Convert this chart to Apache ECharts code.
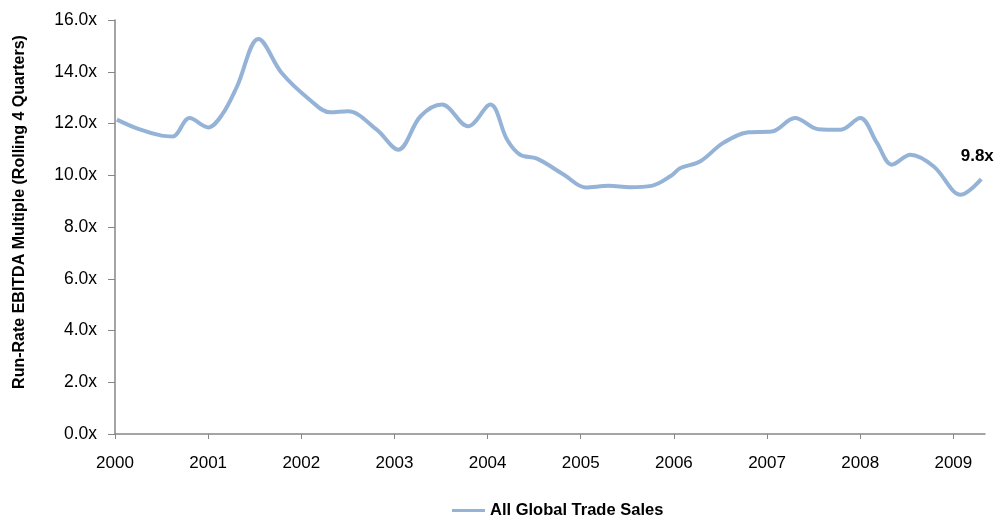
<!DOCTYPE html>
<html>
<head>
<meta charset="utf-8">
<script src="https://cdn.jsdelivr.net/npm/echarts@6/dist/echarts.min.js"></script>
<style>html,body{margin:0;padding:0;background:#fff}#c{width:997px;height:516px}</style>
</head>
<body>
<div id="c"></div>
<script>
const seriesName = 'All Global Trade Sales';
const yTitle = 'Run-Rate EBITDA Multiple (Rolling 4 Quarters)';
const dates = [2000.02,2000.25,2000.5,2000.62,2000.8,2001.0,2001.15,2001.31,2001.54,2001.79,2002.09,2002.31,2002.5,2002.81,2003.04,2003.28,2003.51,2003.79,2004.03,2004.21,2004.35,2004.53,2004.82,2005.05,2005.30,2005.53,2005.76,2005.97,2006.07,2006.28,2006.53,2006.80,2007.05,2007.30,2007.55,2007.79,2008.0,2008.18,2008.34,2008.54,2008.79,2009.08,2009.30];
const values = [12.15,11.79,11.53,11.5,12.21,11.85,12.34,13.43,15.27,13.95,12.92,12.43,12.47,11.76,10.99,12.28,12.73,11.89,12.73,11.37,10.79,10.64,10.02,9.53,9.59,9.54,9.59,9.98,10.28,10.53,11.25,11.66,11.69,12.21,11.78,11.76,12.21,11.25,10.41,10.79,10.34,9.25,9.85];
const endLabel = '9.8x';

const font = 'Liberation Sans, Arial, sans-serif';
const lineColor = '#95B3D7';
const data = dates.map((d, i) => {
  const item = { value: [d, values[i]] };
  if (i === dates.length - 1) {
    item.label = { show: true, position: 'top', offset: [-4, -9], formatter: endLabel,
      fontFamily: font, fontWeight: 'bold', fontSize: 17, color: '#000', opacity: 1 };
  }
  return item;
});

const chart = echarts.init(document.getElementById('c'), null, { renderer: 'canvas' });
chart.setOption({
  animation: false,
  backgroundColor: '#fff',
  grid: { left: 115, right: 12, top: 20, bottom: 82, containLabel: false },
  legend: {
    left: 447, top: 497,
    icon: 'rect', itemWidth: 33, itemHeight: 3, itemGap: 10,
    itemStyle: { color: lineColor, opacity: 1, borderWidth: 0 },
    textStyle: { fontFamily: font, fontWeight: 'bold', fontSize: 16.5, color: '#000' },
    data: [seriesName]
  },
  graphic: [{
    type: 'text', x: 20, y: 212, rotation: Math.PI / 2,
    style: { text: yTitle, fontFamily: font, fontWeight: 'bold', fontSize: 16, fill: '#000',
      align: 'center', verticalAlign: 'middle' }
  }],
  xAxis: {
    type: 'value', min: 2000, max: 2009.34, interval: 1,
    axisLine: { show: true, lineStyle: { color: '#868686', width: 1.5 } },
    axisTick: { show: true, length: 5, lineStyle: { color: '#868686' } },
    splitLine: { show: false },
    axisLabel: { showMaxLabel: false, margin: 21, fontFamily: font, fontSize: 17, color: '#000',
      formatter: v => String(Math.round(v)) }
  },
  yAxis: {
    type: 'value', min: 0, max: 16, interval: 2,
    axisLine: { show: true, lineStyle: { color: '#868686', width: 1.5 } },
    axisTick: { show: true, length: 7, lineStyle: { color: '#868686' } },
    splitLine: { show: false },
    axisLabel: { margin: 18, fontFamily: font, fontSize: 17.5, color: '#000',
      formatter: v => v.toFixed(1) + 'x' }
  },
  series: [{
    name: seriesName, type: 'line', data: data,
    smooth: 0.35, showSymbol: true, showAllSymbol: true, symbol: 'circle', symbolSize: 0.01,
    lineStyle: { color: lineColor, width: 4 },
    itemStyle: { color: 'rgba(0,0,0,0)', borderWidth: 0 },
    emphasis: { disabled: true }
  }]
});
</script>
</body>
</html>
